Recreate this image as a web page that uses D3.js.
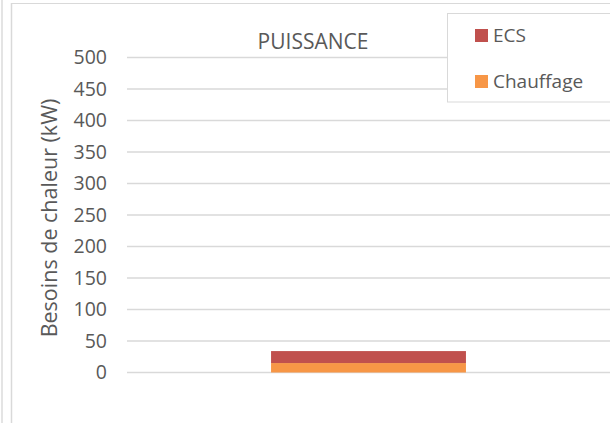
<!DOCTYPE html>
<html>
<head>
<meta charset="utf-8">
<script src="https://cdn.jsdelivr.net/npm/d3@7"></script>
<style>
  html, body { margin: 0; padding: 0; background: #fff; }
  svg { display: block; font-family: "Open Sans", sans-serif; }
</style>
</head>
<body>
<svg id="chart" width="610" height="423"></svg>
<script>
// Heating power demand, stacked by use
const categories = ["Puissance"];
const chauffage = [15];
const ecs = [19];
const yTicks = [0, 50, 100, 150, 200, 250, 300, 350, 400, 450, 500];
const seriesNames = ["Chauffage", "ECS"];
const seriesColors = ["#F79646", "#C0504D"];

const svg = d3.select("#chart");
const W = 610, H = 423;
const margin = { left: 127, right: 0, top: 57.5, bottom: H - 372.5 };
const textColor = "#595959";

// frame lines
svg.append("line").attr("x1", 2).attr("x2", 2).attr("y1", 0).attr("y2", H)
  .attr("stroke", "#e4e4e4").attr("stroke-width", 2);
svg.append("line").attr("x1", 11.5).attr("x2", 11.5).attr("y1", 3).attr("y2", H)
  .attr("stroke", "#d9d9d9").attr("stroke-width", 1.5);
svg.append("line").attr("x1", 11).attr("x2", W).attr("y1", 3.5).attr("y2", 3.5)
  .attr("stroke", "#d9d9d9").attr("stroke-width", 1);

const x = d3.scaleBand().domain(categories)
  .range([margin.left, W - margin.right]).padding(0.425);
const y = d3.scaleLinear().domain([0, 500]).range([H - margin.bottom, margin.top]);

// gridlines
svg.append("g").selectAll("line").data(yTicks).join("line")
  .attr("x1", margin.left).attr("x2", W - margin.right)
  .attr("y1", d => y(d)).attr("y2", d => y(d))
  .attr("stroke", "#d9d9d9").attr("stroke-width", 1.5);

// y axis labels
const yAxis = d3.axisLeft(y).tickValues(yTicks).tickSize(0).tickPadding(0);
const gy = svg.append("g").attr("transform", "translate(107,0)").call(yAxis);
gy.select(".domain").remove();
gy.selectAll("text").attr("fill", textColor).style("font-size", "19.5px")
  .style("font-family", "Open Sans, sans-serif");

// stacked bars
const table = categories.map((c, i) => ({ cat: c, Chauffage: chauffage[i], ECS: ecs[i] }));
const stack = d3.stack().keys(seriesNames)(table);
svg.append("g").selectAll("g").data(stack).join("g")
  .attr("fill", (d, i) => seriesColors[i])
  .selectAll("rect").data(d => d).join("rect")
  .attr("x", d => x(d.data.cat))
  .attr("width", x.bandwidth())
  .attr("y", d => y(d[1]))
  .attr("height", d => y(d[0]) - y(d[1]));

// title
svg.append("text").attr("x", 313).attr("y", 49).attr("text-anchor", "middle")
  .attr("fill", textColor).style("font-size", "21px").text("PUISSANCE");

// y axis title
svg.append("text").attr("transform", "translate(57,218) rotate(-90)")
  .attr("text-anchor", "middle").attr("fill", textColor).style("font-size", "21.5px")
  .text("Besoins de chaleur (kW)");

// legend
const lg = svg.append("g");
lg.append("rect").attr("x", 447.5).attr("y", 13.5).attr("width", 170).attr("height", 88.5)
  .attr("fill", "#fff").attr("stroke", "#d9d9d9").attr("stroke-width", 1);
const legendItems = [
  { name: "ECS", color: seriesColors[1], y: 35.5 },
  { name: "Chauffage", color: seriesColors[0], y: 81.5 }
];
legendItems.forEach(it => {
  lg.append("rect").attr("x", 475).attr("y", it.y - 6.5).attr("width", 13).attr("height", 13)
    .attr("fill", it.color);
  lg.append("text").attr("x", 493).attr("y", it.y + 6.5).attr("fill", textColor)
    .style("font-size", "19px").text(it.name);
});
</script>
</body>
</html>
